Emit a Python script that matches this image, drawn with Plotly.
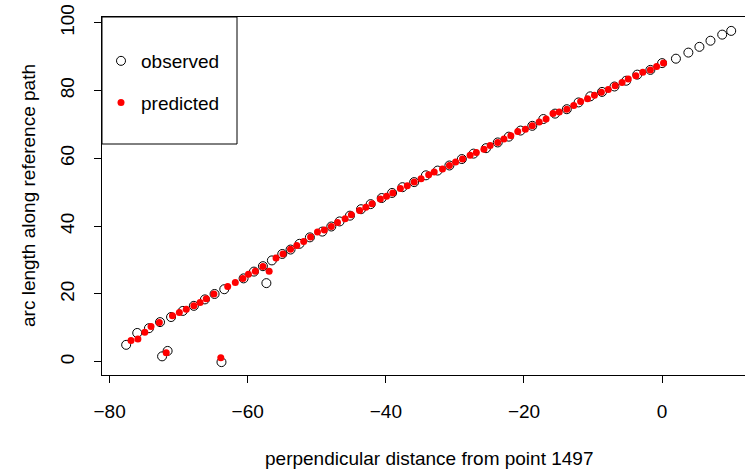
import plotly.graph_objects as go

# observed points (perpendicular distance, arc length)
obs_x = [-77.6, -76.0, -74.3, -72.7, -71.1, -69.4, -67.8, -66.2, -64.8, -63.4,
         -60.6, -59.1, -57.8, -56.5, -55.0, -53.8, -52.5, -51.0, -49.2, -47.9,
         -46.7, -45.2, -43.6, -42.2, -40.6, -39.1, -37.6, -35.9, -34.2, -32.5,
         -30.8, -29.0, -27.3, -25.5, -23.8, -22.2, -20.5, -18.8, -17.2, -15.5,
         -13.8, -12.1, -10.4, -8.7, -6.9, -5.2, -3.6, -1.7, 0.0, 2.0,
         3.8, 5.4, 7.0, 8.7, 10.0,
         -72.4, -71.6, -63.8, -57.3]
obs_y = [5.0, 8.5, 9.9, 11.7, 13.2, 15.0, 16.5, 18.4, 20.0, 21.4,
         24.6, 26.6, 28.2, 29.9, 31.8, 33.1, 34.8, 36.7, 38.4, 39.9,
         41.4, 43.1, 45.0, 46.5, 48.3, 49.8, 51.5, 53.0, 55.0, 56.4,
         57.9, 59.8, 61.4, 63.0, 64.7, 66.4, 68.2, 69.6, 71.6, 73.2,
         74.5, 76.5, 78.3, 79.6, 81.2, 82.9, 84.7, 86.1, 88.1, 89.4,
         91.2, 92.9, 94.7, 96.5, 97.6,
         1.6, 3.2, -0.1, 23.2]

# predicted points
pred_x = [-76.9, -75.9, -74.9, -74.0, -72.8, -71.8, -70.9, -69.9, -68.9, -67.8,
          -66.9, -66.0, -64.9, -63.9, -62.9, -61.8, -60.7, -59.9, -58.9, -57.8,
          -56.9, -55.9, -54.9, -53.8, -52.9, -51.9, -50.9, -49.9, -48.9, -47.9,
          -47.0, -45.9, -45.0, -43.8, -42.9, -42.0, -40.8, -39.9, -39.0, -37.9,
          -36.9, -35.9, -34.9, -33.8, -33.0, -31.8, -30.8, -29.9, -28.9, -27.8,
          -26.9, -25.8, -24.9, -23.8, -22.9, -21.9, -20.9, -19.8, -18.8, -17.8,
          -16.8, -15.8, -14.9, -13.8, -12.8, -11.8, -10.8, -9.8, -8.8, -7.8,
          -6.8, -5.8, -4.9, -3.8, -2.8, -1.7, -0.8, 0.2]
pred_y = [6.3, 6.7, 8.7, 10.4, 11.6, 2.7, 13.6, 14.5, 15.5, 16.5,
          17.5, 18.6, 20.0, 1.2, 22.2, 23.4, 24.6, 25.8, 26.7, 28.1,
          26.7, 30.6, 31.8, 33.2, 34.3, 35.5, 36.8, 38.3, 38.9, 39.9,
          41.1, 42.2, 43.4, 44.6, 45.6, 46.6, 48.0, 48.8, 49.8, 51.1,
          51.9, 53.0, 54.0, 55.2, 56.0, 56.9, 57.9, 58.9, 59.8, 60.9,
          61.7, 62.7, 63.8, 64.7, 65.7, 66.7, 67.9, 68.6, 69.6, 70.7,
          71.6, 73.2, 73.7, 74.5, 75.6, 76.8, 77.6, 78.6, 79.5, 80.3,
          81.4, 82.4, 83.4, 84.4, 85.4, 86.1, 87.1, 88.1]

x_ticks = [-80, -60, -40, -20, 0]
y_ticks = [0, 20, 40, 60, 80, 100]

FONT = "Liberation Sans, Arial, sans-serif"
FS = 19

fig = go.Figure()
fig.add_trace(go.Scatter(
    x=obs_x, y=obs_y, mode="markers", name="observed", legendgroup="a",
    marker=dict(symbol="circle-open", size=9, color="black", line=dict(width=1, color="black")),
))
fig.add_trace(go.Scatter(
    x=pred_x, y=pred_y, mode="markers", name="predicted", legendgroup="b",
    marker=dict(symbol="circle", size=7, color="#FF0000", line=dict(width=0)),
))

# page body margin is removed below, so figure pixels == screen pixels
W, H = 745, 470
L, T = 102, 17
R, B = 0, H - 375
pw, ph = W - L - R, H - T - B

def sx(p):  # screen x pixel -> paper x
    return (p - L) / pw

def sy(p):  # screen y pixel -> paper y
    return (H - B - p) / ph

fig.update_layout(
    template="none",
    width=W, height=H,
    margin=dict(l=L, r=R, t=T, b=B, pad=0),
    paper_bgcolor="white", plot_bgcolor="white",
    font=dict(family=FONT, size=FS, color="black"),
    showlegend=True,
    hovermode=False,
    legend=dict(
        x=sx(101), y=sy(42), xanchor="left", yanchor="top",
        bgcolor="rgba(0,0,0,0)", borderwidth=0,
        font=dict(family=FONT, size=FS, color="black"),
        tracegroupgap=14, itemsizing="trace",
    ),
    xaxis=dict(
        range=[-81.1, 12.0], tickmode="array", tickvals=x_ticks,
        ticktext=["\u221280", "\u221260", "\u221240", "\u221220", "0"],
        showline=True, linecolor="black", linewidth=1, mirror=True,
        ticks="outside", ticklen=7, tickwidth=1, tickcolor="black",
        showgrid=False, zeroline=False, ticklabelstandoff=12, automargin=False,
        ticklabeloverflow="allow",
        tickfont=dict(family=FONT, size=FS),
    ),
    yaxis=dict(
        range=[-3.9, 101.7], tickmode="array", tickvals=y_ticks,
        showline=True, linecolor="black", linewidth=1, mirror=False,
        ticks="outside", ticklen=7, tickwidth=1, tickcolor="black",
        showgrid=False, zeroline=False, tickangle=-90, ticklabelstandoff=12,
        automargin=False, ticklabeloverflow="allow",
        tickfont=dict(family=FONT, size=FS),
    ),
    shapes=[dict(
        type="rect", xref="paper", yref="paper",
        x0=sx(102), x1=sx(237), y0=sy(144), y1=sy(17),
        line=dict(color="black", width=1), fillcolor="rgba(0,0,0,0)", layer="above",
    )],
    annotations=[
        dict(text="perpendicular distance from point 1497", xref="paper", yref="paper",
             x=sx(428.5), y=sy(458), xanchor="center", yanchor="middle",
             showarrow=False, font=dict(family=FONT, size=FS)),
        dict(text="arc length along reference path", xref="paper", yref="paper",
             x=sx(28), y=sy(196), xanchor="center", yanchor="middle",
             textangle=-90, showarrow=False, font=dict(family=FONT, size=FS)),
    ],
)

fig.write_html(
    "out.html",
    config={"displayModeBar": False, "staticPlot": True},
    post_script="document.body.style.margin='0px';document.body.style.overflow='hidden';",
)
